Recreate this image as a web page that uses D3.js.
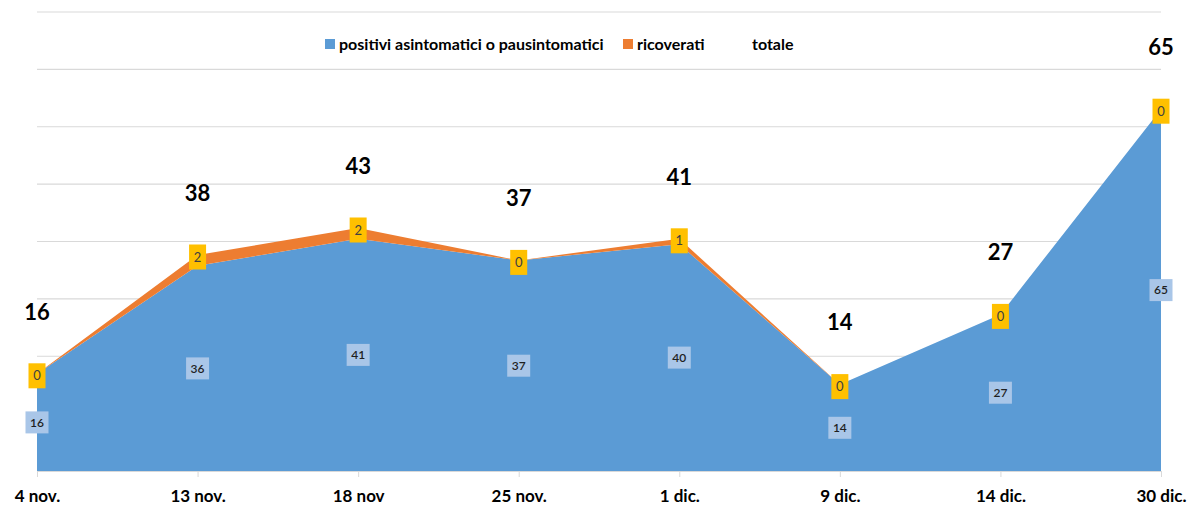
<!DOCTYPE html>
<html>
<head>
<meta charset="utf-8">
<script src="https://cdn.jsdelivr.net/npm/d3@7"></script>
<style>
  html, body { margin: 0; padding: 0; background: #fff; }
  svg { display: block; font-family: Lato, "Open Sans", sans-serif; }
</style>
</head>
<body>
<svg id="chart" width="1188" height="506"></svg>
<script>
const categories = ["4 nov.", "13 nov.", "18 nov", "25 nov.", "1 dic.", "9 dic.", "14 dic.", "30 dic."];
const positivi = [16, 36, 41, 37, 40, 14, 27, 65];
const ricoverati = [0, 2, 2, 0, 1, 0, 0, 0];
const totale = [16, 38, 43, 37, 41, 14, 27, 65];
const seriesNames = ["positivi asintomatici o pausintomatici", "ricoverati", "totale"];

const W = 1188, H = 506;
const svg = d3.select("#chart");

const rows = categories.map((c, i) => ({ cat: c, positivi: positivi[i], ricoverati: ricoverati[i], totale: totale[i] }));

const x = d3.scalePoint().domain(categories).range([37, 1161]);
const yMin = -2, yMax = 83;
const y = d3.scaleLinear().domain([yMin, yMax]).range([471, 12]);

// gridlines
const gridVals = d3.range(9).map(i => yMin + i * (yMax - yMin) / 8);
svg.append("g").selectAll("line").data(gridVals).join("line")
  .attr("x1", x.range()[0]).attr("x2", x.range()[1])
  .attr("y1", d => y(d)).attr("y2", d => y(d))
  .attr("stroke", "#d9d9d9").attr("stroke-width", 1.2);

// stacked areas
const stack = d3.stack().keys(["positivi", "ricoverati"]);
const layers = stack(rows);
const colors = { positivi: "#5b9bd5", ricoverati: "#ed7d31" };
const area = d3.area()
  .x(d => x(d.data.cat))
  .y0(d => d[0] === 0 ? y(yMin) : y(d[0]))
  .y1(d => y(d[1]));
svg.append("g").selectAll("path").data(layers).join("path")
  .attr("d", area)
  .attr("fill", d => colors[d.key]);

// x axis
const xAxis = d3.axisBottom(x).tickSize(6).tickPadding(13);
const gx = svg.append("g").attr("transform", `translate(0,${y(yMin)})`).call(xAxis);
gx.select(".domain").attr("stroke", "#d9d9d9");
gx.selectAll(".tick line").attr("stroke", "#d9d9d9");
gx.selectAll(".tick text")
  .attr("fill", "#000").attr("font-size", 17).attr("font-weight", "bold")
  .attr("font-family", "Lato, 'Open Sans', sans-serif");

// positivi labels (centered in band)
const posLab = svg.append("g").selectAll("g").data(rows).join("g")
  .attr("transform", d => `translate(${x(d.cat)},${(y(yMin) + y(d.positivi)) / 2})`);
posLab.append("rect").attr("x", -11.5).attr("y", -11).attr("width", 23).attr("height", 22)
  .attr("fill", "#a9c6e8");
posLab.append("text").text(d => d.positivi)
  .attr("text-anchor", "middle").attr("dy", "0.35em")
  .attr("font-size", 12).attr("font-weight", 600).attr("fill", "#1f1f1f");

// ricoverati labels (at stack top)
const ricLab = svg.append("g").selectAll("g").data(rows).join("g")
  .attr("transform", d => `translate(${x(d.cat)},${y(d.positivi + d.ricoverati) + 2})`);
ricLab.append("rect").attr("x", -8.5).attr("y", -12.5).attr("width", 17).attr("height", 25)
  .attr("fill", "#ffc000");
ricLab.append("text").text(d => d.ricoverati)
  .attr("text-anchor", "middle").attr("dy", "0.35em")
  .attr("font-size", 13).attr("fill", "#404040");

// totale labels
svg.append("g").selectAll("text").data(rows).join("text")
  .attr("x", d => x(d.cat))
  .attr("y", d => y(d.totale) - 62)
  .attr("dy", "0.35em")
  .attr("text-anchor", "middle")
  .attr("font-size", 22).attr("font-weight", "bold").attr("fill", "#000")
  .text(d => d.totale);

// legend
const legend = svg.append("g").attr("transform", "translate(325,44)");
const legendItems = [
  { name: seriesNames[0], color: colors.positivi, x: 0 },
  { name: seriesNames[1], color: colors.ricoverati, x: 298 },
  { name: seriesNames[2], color: null, x: 413 }
];
const li = legend.selectAll("g").data(legendItems).join("g")
  .attr("transform", d => `translate(${d.x},0)`);
li.filter(d => d.color).append("rect")
  .attr("x", 0).attr("y", -5).attr("width", 10).attr("height", 10)
  .attr("fill", d => d.color);
li.append("text").attr("x", 14).attr("dy", "0.35em")
  .attr("font-size", 16).attr("font-weight", "bold").attr("fill", "#000")
  .text(d => d.name);
</script>
</body>
</html>
